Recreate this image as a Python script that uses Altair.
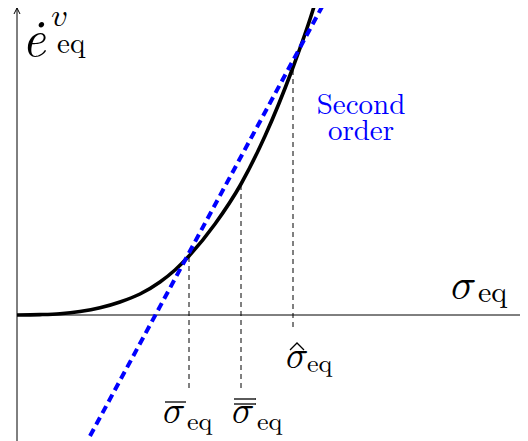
import altair as alt
import pandas as pd

# ---- data ----
sigma_curve = [0.0, 0.23, 0.43, 0.63, 0.83, 1.03, 1.23, 1.43, 1.58, 1.72, 1.98, 2.24, 2.48, 2.75, 2.95, 3.02]
e_curve = [0.0, 0.004, 0.013, 0.035, 0.072, 0.13, 0.21, 0.33, 0.45, 0.59, 0.91, 1.31, 1.79, 2.45, 3.02, 3.25]

secant_sigma = [0.73, 3.06]
secant_e = [-1.21, 3.10]

mark_sigma = [1.72, 2.24, 2.76]          # sigma_bar, sigma_double_bar, sigma_hat
mark_top = [0.59, 1.31, 2.45]
mark_bottom = [-0.73, -0.73, -0.12]

x_dom = [-0.09, 5.03]
y_dom = [-1.26, 3.07]

ROMAN = "Latin Modern Roman"
MATH = "Latin Modern Math, Latin Modern Roman"

xs = alt.Scale(domain=x_dom, nice=False, zero=False)
ys = alt.Scale(domain=y_dom, nice=False, zero=False)
X = lambda f: alt.X(f, type="quantitative", scale=xs, axis=None)
Y = lambda f: alt.Y(f, type="quantitative", scale=ys, axis=None)

# axes
axes_df = pd.DataFrame({
    "x": [0.0, 0.0], "x2": [x_dom[1], 0.0],
    "y": [0.0, y_dom[0]], "y2": [0.0, y_dom[1]],
})
axes = alt.Chart(axes_df).mark_rule(color="black", strokeWidth=1).encode(
    x=X("x"), x2="x2", y=Y("y"), y2="y2")

arrow = alt.Chart(pd.DataFrame({"x": [0.0], "y": [3.04]})).mark_point(
    shape="M-1,1 L0,-1 L1,1", filled=False, color="black", strokeWidth=1, size=36, opacity=1
).encode(x=X("x"), y=Y("y"))

# dashed helper verticals
vdf = pd.DataFrame({"s": mark_sigma, "top": mark_top, "bot": mark_bottom})
verts = alt.Chart(vdf).mark_rule(color="black", strokeWidth=1, strokeDash=[5, 4]).encode(
    x=X("s"), y=Y("bot"), y2="top")

# curve
cdf = pd.DataFrame({"sigma": sigma_curve, "e": e_curve})
curve = alt.Chart(cdf).mark_line(color="black", strokeWidth=3.6, clip=True,
                                 interpolate="monotone").encode(
    x=X("sigma"), y=Y("e"), order="sigma:Q")

# secant (blue dashed)
sdf = pd.DataFrame({"sigma": secant_sigma, "e": secant_e})
secant = alt.Chart(sdf).mark_line(color="#0000ff", strokeWidth=4, strokeDash=[8, 5],
                                  clip=True).encode(x=X("sigma"), y=Y("e"))

# labels
edot = alt.Chart(pd.DataFrame({"x": [0.05], "y": [2.59], "t": ["ė"]})).mark_text(
    font=ROMAN, fontStyle="italic", fontSize=51, align="left", baseline="alphabetic",
    color="black").encode(x=X("x"), y=Y("y"), text="t:N")

math_df = pd.DataFrame({
    "x": [0.34, 4.34, 1.46, 2.15, 2.69],
    "y": [2.89, 0.17, -1.07, -1.07, -0.52],
    "t": ["\U0001D463", "\U0001D70E", "\U0001D70E", "\U0001D70E", "\U0001D70E"],
    "fs": [33, 42, 37, 37, 37],
})
math = alt.Chart(math_df).mark_text(font=MATH, align="left",
                                    baseline="alphabetic", color="black").encode(
    x=X("x"), y=Y("y"), text="t:N", size=alt.Size("fs:Q", scale=None))

sub_df = pd.DataFrame({
    "x": [0.40, 4.61, 1.70, 2.40, 2.90],
    "y": [2.62, 0.13, -1.15, -1.15, -0.57],
    "t": ["eq"] * 5,
    "fs": [29, 30, 26, 26, 26],
})
sub = alt.Chart(sub_df).mark_text(font=ROMAN, align="left", baseline="alphabetic",
                                  color="black").encode(
    x=X("x"), y=Y("y"), text="t:N", size=alt.Size("fs:Q", scale=None))

bars_df = pd.DataFrame({
    "x": [1.48, 2.17, 2.17], "x2": [1.69, 2.39, 2.39], "y": [-0.87, -0.84, -0.89]})
bars = alt.Chart(bars_df).mark_rule(color="black", strokeWidth=1.3).encode(
    x=X("x"), x2="x2", y=Y("y"))

hat_df = pd.DataFrame({"x": [2.73, 2.80, 2.87], "y": [-0.35, -0.28, -0.35]})
hat = alt.Chart(hat_df).mark_line(color="black", strokeWidth=1.3).encode(
    x=X("x"), y=Y("y"), order="x:Q")

blue_df = pd.DataFrame({"x": [3.44, 3.44], "y": [2.01, 1.75], "t": ["Second", "order"]})
blue = alt.Chart(blue_df).mark_text(font=ROMAN, fontSize=29, align="center",
                                    baseline="alphabetic", color="#0000ff").encode(
    x=X("x"), y=Y("y"), text="t:N")

chart = alt.layer(axes, arrow, verts, curve, secant, edot, math, sub, bars, hat, blue).properties(
    width=512, height=433, padding=0, autosize=alt.AutoSizeParams(type="none")
).configure_view(strokeWidth=0)

chart.save("out.html", embed_options={"renderer": "svg", "actions": False})
